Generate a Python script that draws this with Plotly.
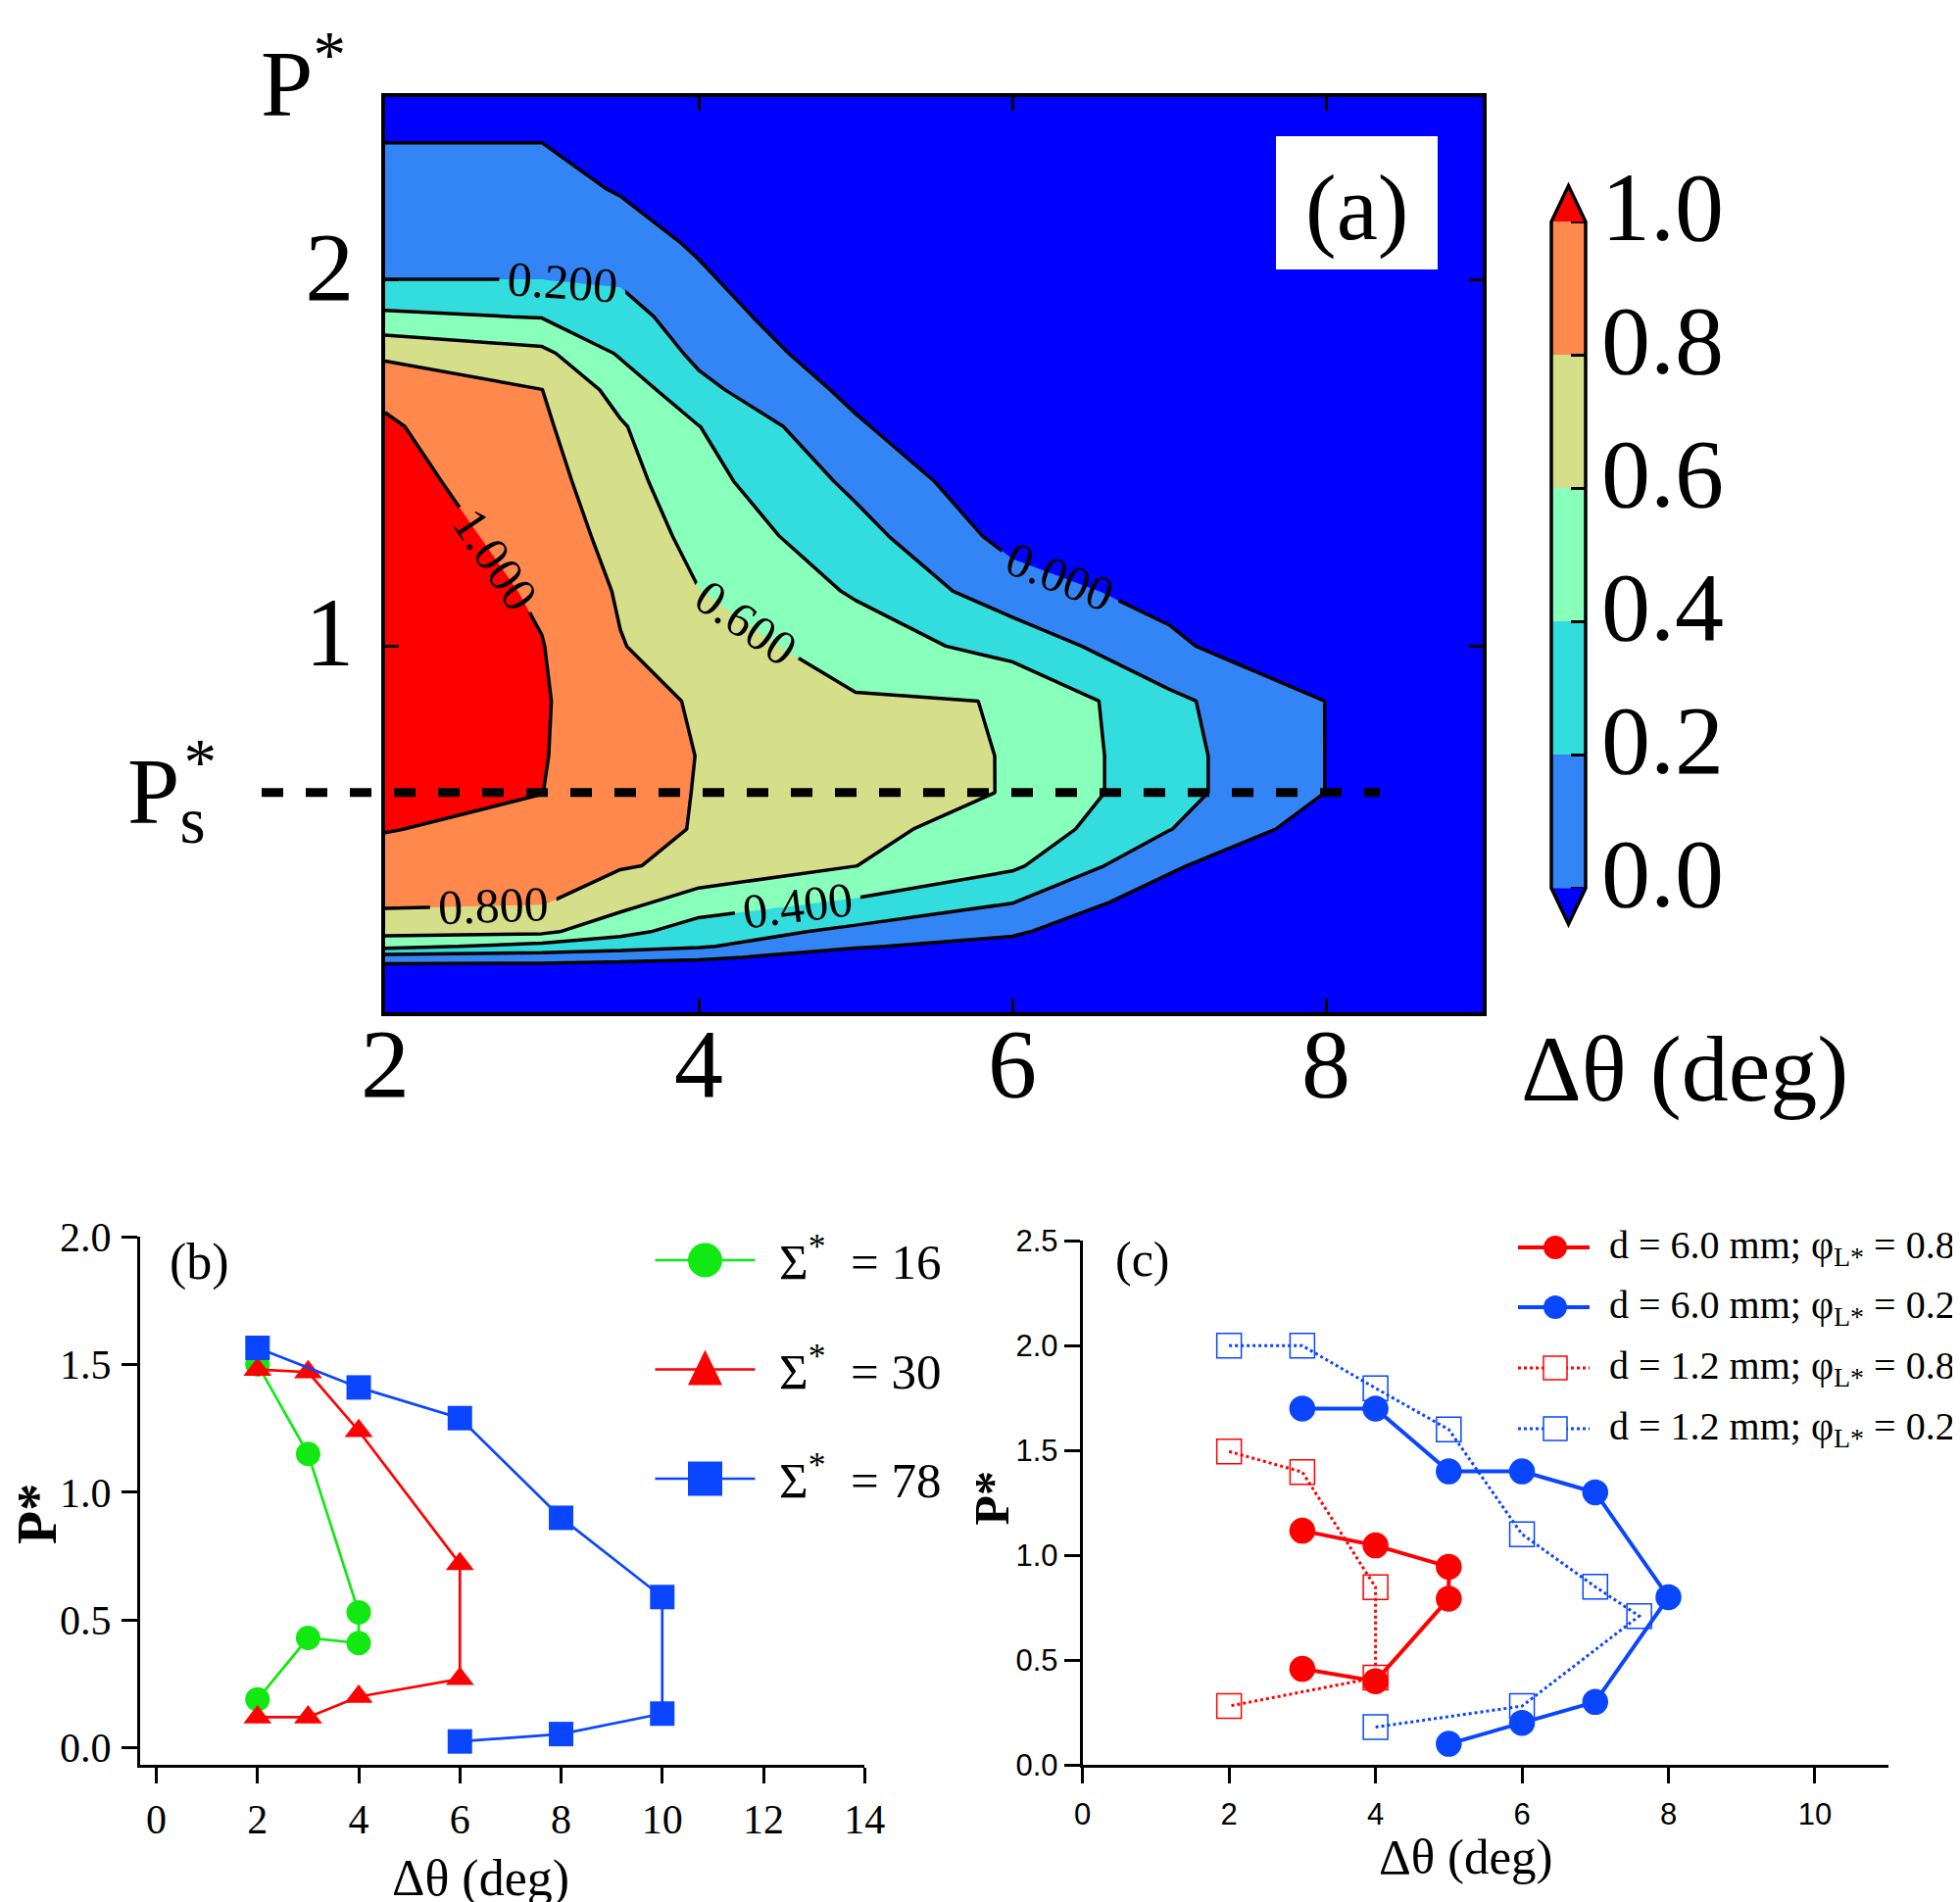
import plotly.graph_objects as go

W, H = 2000, 1941
SERIF = "Liberation Serif, Times New Roman, serif"
SANS = "Liberation Sans, Arial, sans-serif"

# ---------------- panel (a): contour data ----------------
a_x = [2, 3, 3.5, 4, 5, 6, 7, 8, 9]
a_y = [0.0, 0.12, 0.15, 0.18, 0.22, 0.3, 0.4, 0.5, 0.6, 0.7, 0.85, 1.0,
       1.15, 1.3, 1.45, 1.6, 1.7, 1.8, 1.9, 2.0, 2.1, 2.25, 2.4, 2.5]
a_z = [
    [-0.6, -0.6, -0.6, -0.6, -0.6, -0.6, -0.6, -0.9, -1.0],
    [-0.08, -0.086, -0.097, -0.107, -0.189, -0.247, -0.411, -0.717, -1.0],
    [0.109, 0.1, 0.064, 0.033, -0.086, -0.159, -0.363, -0.671, -1.0],
    [0.459, 0.333, 0.286, 0.222, 0.017, -0.071, -0.316, -0.626, -1.0],
    [0.657, 0.643, 0.457, 0.311, 0.15, 0.033, -0.253, -0.565, -1.0],
    [0.836, 0.814, 0.670, 0.496, 0.373, 0.205, -0.126, -0.443, -1.0],
    [0.927, 0.876, 0.815, 0.76, 0.602, 0.432, 0.036, -0.29, -1.0],
    [1.008, 0.938, 0.822, 0.796, 0.64, 0.531, 0.206, -0.097, -1.0],
    [1.046, 1.003, 0.828, 0.797, 0.68, 0.59, 0.267, -0.002, -1.0],
    [1.085, 1.015, 0.84, 0.798, 0.679, 0.59, 0.267, -0.002, -1.0],
    [1.142, 1.024, 0.825, 0.793, 0.618, 0.595, 0.242, -0.002, -1.0],
    [1.2, 1.007, 0.809, 0.698, 0.506, 0.322, 0.046, -0.225, -1.0],
    [1.156, 0.972, 0.779, 0.604, 0.379, 0.091, -0.073, -0.302, -1.0],
    [1.112, 0.926, 0.726, 0.537, 0.271, -0.063, -0.165, -0.38, -1.0],
    [1.068, 0.879, 0.673, 0.470, 0.157, -0.155, -0.257, -0.457, -1.0],
    [1.024, 0.833, 0.620, 0.404, 0.026, -0.247, -0.349, -0.535, -1.0],
    [0.961, 0.802, 0.528, 0.25, -0.048, -0.309, -0.41, -0.587, -1.0],
    [0.757, 0.648, 0.377, 0.157, -0.117, -0.37, -0.471, -0.638, -1.0],
    [0.442, 0.39, 0.277, 0.097, -0.186, -0.432, -0.533, -0.69, -1.0],
    [0.201, 0.201, 0.181, 0.036, -0.255, -0.493, -0.594, -0.742, -1.0],
    [0.148, 0.148, 0.099, -0.028, -0.324, -0.555, -0.655, -0.793, -1.0],
    [0.070, 0.070, -0.016, -0.13, -0.428, -0.647, -0.747, -0.871, -1.0],
    [-0.014, -0.014, -0.096, -0.232, -0.531, -0.739, -0.839, -0.948, -1.0],
    [-0.1, -0.1, -0.15, -0.3, -0.6, -0.8, -0.9, -1.0, -1.0],
]
a_levels = [0.0, 0.2, 0.4, 0.6, 0.8, 1.0]
a_colors = ["#0000FF", "#3385F5", "#33DDDD", "#88FFBB", "#D5DE88", "#FF884D", "#FF0000"]
a_xticks = [2, 4, 6, 8]
a_yticks = [1, 2]
a_xrange = [2, 9]
a_yrange = [0, 2.5]
Ps = 0.6

# ---------------- panel (b) ----------------
b_sigma = [16, 30, 78]
b_x16 = [2, 3, 4, 4, 3, 2]
b_y16 = [1.50, 1.15, 0.53, 0.41, 0.43, 0.19]
b_x30 = [2, 3, 4, 6, 6, 4, 3, 2]
b_y30 = [1.48, 1.47, 1.24, 0.72, 0.27, 0.20, 0.12, 0.12]
b_x78 = [2, 4, 6, 8, 10, 10, 8, 6]
b_y78 = [1.565, 1.41, 1.29, 0.90, 0.59, 0.134, 0.054, 0.025]
b_xticks = [0, 2, 4, 6, 8, 10, 12, 14]
b_yticks = [0.0, 0.5, 1.0, 1.5, 2.0]
b_xrange = [-0.32, 14]
b_yrange = [-0.0675, 2.0]

# ---------------- panel (c) ----------------
c_names = ["d = 6.0 mm; φ<sub>L*</sub> = 0.8", "d = 6.0 mm; φ<sub>L*</sub> = 0.2",
           "d = 1.2 mm; φ<sub>L*</sub> = 0.8", "d = 1.2 mm; φ<sub>L*</sub> = 0.2"]
c_x_r6 = [3, 4, 5, 5, 4, 3]
c_y_r6 = [1.117, 1.047, 0.945, 0.793, 0.399, 0.458]
c_x_b6 = [3, 4, 5, 6, 7, 8, 7, 6, 5]
c_y_b6 = [1.70, 1.70, 1.40, 1.40, 1.30, 0.80, 0.30, 0.20, 0.10]
c_x_r12 = [2, 3, 4, 4, 2]
c_y_r12 = [1.495, 1.397, 0.847, 0.416, 0.28]
c_x_b12 = [2, 3, 4, 5, 6, 7, 7.6, 6, 4]
c_y_b12 = [2.00, 2.00, 1.797, 1.60, 1.10, 0.85, 0.71, 0.28, 0.18]
c_xticks = [0, 2, 4, 6, 8, 10]
c_yticks = [0.0, 0.5, 1.0, 1.5, 2.0, 2.5]
c_xrange = [0, 11]
c_yrange = [0, 2.5]

GREEN = "#12E812"
RED = "#FF0000"
BLUE = "#0A46FF"


def px(x):
    return x / W


def py(y):
    return 1 - y / H


fig = go.Figure()

# ---- (a) contour ----
n = len(a_colors) - 1
cscale = [[i / n, c] for i, c in enumerate(a_colors)]
step = a_levels[1] - a_levels[0]
fig.add_trace(go.Contour(
    x=a_x, y=a_y, z=a_z, colorscale=cscale, showscale=False, autocontour=False,
    contours=dict(start=a_levels[0], end=a_levels[-1], size=step, coloring="fill",
                  showlabels=True, labelformat=".3f",
                  labelfont=dict(family=SERIF, size=50, color="black")),
    line=dict(color="black", width=3.5, smoothing=0),
    hoverinfo="skip", xaxis="x", yaxis="y"))

# ---- colour bar built from the same levels ----
cb_mid = [(a_levels[i] + a_levels[i + 1]) / 2 for i in range(len(a_levels) - 1)]
fig.add_trace(go.Heatmap(
    x=[0], y=cb_mid, z=[[m] for m in cb_mid],
    zmin=a_levels[0] - step / 2, zmax=a_levels[-1] + step / 2,
    colorscale=cscale, showscale=False, hoverinfo="skip", xaxis="x4", yaxis="y4"))

# ---- (b) ----
b_series = [(b_x16, b_y16, GREEN, "circle", 25),
            (b_x30, b_y30, RED, "triangle-up", 25),
            (b_x78, b_y78, BLUE, "square", 25)]
for xs, ys, col, sym, ms in b_series:
    fig.add_trace(go.Scatter(x=xs, y=ys, mode="lines+markers", showlegend=False,
                             line=dict(color=col, width=2.7),
                             marker=dict(symbol=sym, size=ms, color=col),
                             xaxis="x2", yaxis="y2", hoverinfo="skip", cliponaxis=False))

# ---- (c) ----
c_series = [(c_x_r12, c_y_r12, RED, "dot", "square-open", 3),
            (c_x_b12, c_y_b12, BLUE, "dot", "square-open", 3),
            (c_x_r6, c_y_r6, RED, "solid", "circle", 4),
            (c_x_b6, c_y_b6, BLUE, "solid", "circle", 4)]
for xs, ys, col, dash, sym, lw in c_series:
    fig.add_trace(go.Scatter(x=xs, y=ys, mode="lines+markers", showlegend=False,
                             line=dict(color=col, width=lw, dash=dash),
                             marker=dict(symbol=sym, size=25, color=col, line=dict(color=col, width=1.5)),
                             xaxis="x3", yaxis="y3", hoverinfo="skip", cliponaxis=False))

# ---------------- axes ----------------
a_dom_y = [py(1025), py(91)]
cb_lo, cb_hi = -0.06, 1.06
cb_px0, cb_px1 = 898.3, 218.3  # pixel rows of level 0 and level 1
cb_scale = (cb_px0 - cb_px1) / (a_levels[-1] - a_levels[0])
cb_dom = [py(cb_px0 - (cb_lo - a_levels[0]) * cb_scale), py(cb_px0 - (cb_hi - a_levels[0]) * cb_scale)]

common_a = dict(showgrid=False, zeroline=False, showline=True, mirror="ticks", linecolor="black",
                linewidth=3.5, ticks="inside", ticklen=14, tickwidth=2.5, tickcolor="black",
                automargin=False, tickfont=dict(family=SERIF, size=100, color="black"))
common_bc = dict(showgrid=False, zeroline=False, showline=True, linecolor="black", linewidth=3,
                 ticks="outside", ticklen=16, tickwidth=3, tickcolor="black", automargin=False)

fig.update_layout(
    width=W, height=H, margin=dict(l=0, r=0, t=0, b=0, autoexpand=False),
    paper_bgcolor="white", plot_bgcolor="white", showlegend=False,
    xaxis=dict(domain=[px(385), px(1505)], range=a_xrange, tickvals=a_xticks, anchor="y",
               ticklabelstandoff=-38, **common_a),
    yaxis=dict(domain=a_dom_y, range=a_yrange, tickvals=a_yticks, anchor="x",
               ticklabelstandoff=8, ticklabelshift=-15, **common_a),
    xaxis2=dict(domain=[px(135), px(874.3)], range=b_xrange, tickvals=b_xticks, anchor="y2",
                tickfont=dict(family=SERIF, size=42, color="black"), ticklabelstandoff=0, **common_bc),
    yaxis2=dict(domain=[py(1793.3), py(1254)], range=b_yrange, tickvals=b_yticks, tickformat=".1f",
                anchor="x2", tickfont=dict(family=SERIF, size=42, color="black"), ticklabelstandoff=2,
                **common_bc),
    xaxis3=dict(domain=[px(1096.7), px(1918.7)], range=c_xrange, tickvals=c_xticks, anchor="y3",
                tickfont=dict(family=SANS, size=31, color="black"), ticklabelstandoff=5, **common_bc),
    yaxis3=dict(domain=[py(1793), py(1258.3)], range=c_yrange, tickvals=c_yticks, tickformat=".1f",
                anchor="x3", tickfont=dict(family=SANS, size=31, color="black"), ticklabelstandoff=0,
                **common_bc),
    xaxis4=dict(domain=[px(1571.5), px(1613.5)], range=[-0.6, 0.6], visible=False, anchor="y4",
                automargin=False),
    yaxis4=dict(domain=cb_dom, range=[cb_lo, cb_hi], anchor="free", position=px(1610), side="right",
                tickvals=a_levels, tickformat=".1f", ticks="inside", ticklen=15, tickwidth=2.5,
                tickcolor="black", showline=False, showgrid=False, zeroline=False, automargin=False,
                tickfont=dict(family=SERIF, size=100, color="black"), ticklabelstandoff=15,
                ticklabelshift=-16),
)

shapes = []
annotations = []

# Ps* dashed reference line
ps_paper = a_dom_y[0] + (Ps - a_yrange[0]) / (a_yrange[1] - a_yrange[0]) * (a_dom_y[1] - a_dom_y[0])
shapes.append(dict(type="line", xref="paper", yref="paper", x0=px(259), x1=px(1400),
                   y0=ps_paper, y1=ps_paper, line=dict(color="black", width=9, dash="22px,23px")))

# (a) white label box
shapes.append(dict(type="rect", xref="paper", yref="paper", x0=px(1294), x1=px(1459),
                   y0=py(267), y1=py(131), fillcolor="white", line=dict(width=0)))

# colour bar end triangles and outline
top_apex, bot_apex = 1.054, -0.054
shapes.append(dict(type="path", xref="x4", yref="y4",
                   path=f"M -0.5,{a_levels[-1]} L 0.5,{a_levels[-1]} L 0,{top_apex} Z",
                   fillcolor=a_colors[-1], line=dict(width=0)))
shapes.append(dict(type="path", xref="x4", yref="y4",
                   path=f"M -0.5,{a_levels[0]} L 0.5,{a_levels[0]} L 0,{bot_apex} Z",
                   fillcolor=a_colors[0], line=dict(width=0)))
shapes.append(dict(type="path", xref="x4", yref="y4",
                   path=(f"M 0,{bot_apex} L -0.5,{a_levels[0]} L -0.5,{a_levels[-1]} L 0,{top_apex} "
                         f"L 0.5,{a_levels[-1]} L 0.5,{a_levels[0]} Z"),
                   line=dict(color="black", width=3.5)))


def ann(text, x, y, size, family=SERIF, xanchor="center", yanchor="middle", angle=0, bold=False):
    if bold:
        text = f"<b>{text}</b>"
    annotations.append(dict(text=text, x=px(x), y=py(y), xref="paper", yref="paper",
                            showarrow=False, xanchor=xanchor, yanchor=yanchor, textangle=angle,
                            font=dict(family=family, size=size, color="black")))


# panel (a)
ann("P<sup>*</sup>", 256, 70, 96, xanchor="left")
ann('P<sub><span style="letter-spacing:-22px">s</span></sub><sup>*</sup>', 120, 800, 96, xanchor="left")
ann("(a)", 1376, 204, 95)
ann("Δθ (deg)", 1711, 1082, 96)

# panel (b)
ann("(b)", 195.5, 1279.5, 52)
ann("Δθ (deg)", 482, 1909, 52)
ann("P*", 30, 1537, 56, angle=-90, bold=True)

# panel (c)
ann("(c)", 1158, 1277, 50)
ann("Δθ (deg)", 1488, 1887, 51)
ann("P*", 1003.5, 1521, 50, angle=-90, bold=True)

# legend (b)
b_rows = [1278, 1389.5, 1501]
for (xs, ys, col, sym, ms), sig, ry in zip(b_series, b_sigma, b_rows):
    cx, r = 711.5, 17.5
    shapes.append(dict(type="line", xref="paper", yref="paper", x0=px(cx - 51), x1=px(cx + 51),
                       y0=py(ry), y1=py(ry), line=dict(color=col, width=2.7)))
    if sym == "circle":
        shapes.append(dict(type="circle", xref="paper", yref="paper", x0=px(cx - r), x1=px(cx + r),
                           y0=py(ry + r), y1=py(ry - r), fillcolor=col, line=dict(width=0)))
    elif sym == "triangle-up":
        shapes.append(dict(type="path", xref="paper", yref="paper",
                           path=f"M {px(cx - r)},{py(ry + 16)} L {px(cx + r)},{py(ry + 16)} L {px(cx)},{py(ry - 20)} Z",
                           fillcolor=col, line=dict(width=0)))
    else:
        shapes.append(dict(type="rect", xref="paper", yref="paper", x0=px(cx - r), x1=px(cx + r),
                           y0=py(ry + r), y1=py(ry - r), fillcolor=col, line=dict(width=0)))
    ann(f"Σ<sup>*</sup>\u00a0 = {sig}", 785, ry - 2, 51, xanchor="left")

# legend (c)
c_rows = [1265, 1326, 1388, 1450]
c_leg = [(RED, "solid", "circle", 4), (BLUE, "solid", "circle", 4),
         (RED, "dot", "square-open", 3), (BLUE, "dot", "square-open", 3)]
for (col, dash, sym, lw), name, ry in zip(c_leg, c_names, c_rows):
    shapes.append(dict(type="line", xref="paper", yref="paper", x0=px(1541), x1=px(1614),
                       y0=py(ry), y1=py(ry), line=dict(color=col, width=lw, dash=dash)))
    cx, r = 1579, 12
    if sym == "circle":
        shapes.append(dict(type="circle", xref="paper", yref="paper", x0=px(cx - r), x1=px(cx + r),
                           y0=py(ry + r), y1=py(ry - r), fillcolor=col, line=dict(width=0)))
    else:
        shapes.append(dict(type="rect", xref="paper", yref="paper", x0=px(cx - r), x1=px(cx + r),
                           y0=py(ry + r), y1=py(ry - r), fillcolor="white", line=dict(color=col, width=1.5)))
    ann(name, 1632, ry, 40, xanchor="left")

fig.update_layout(shapes=shapes, annotations=annotations)
fig.write_html("out.html")
